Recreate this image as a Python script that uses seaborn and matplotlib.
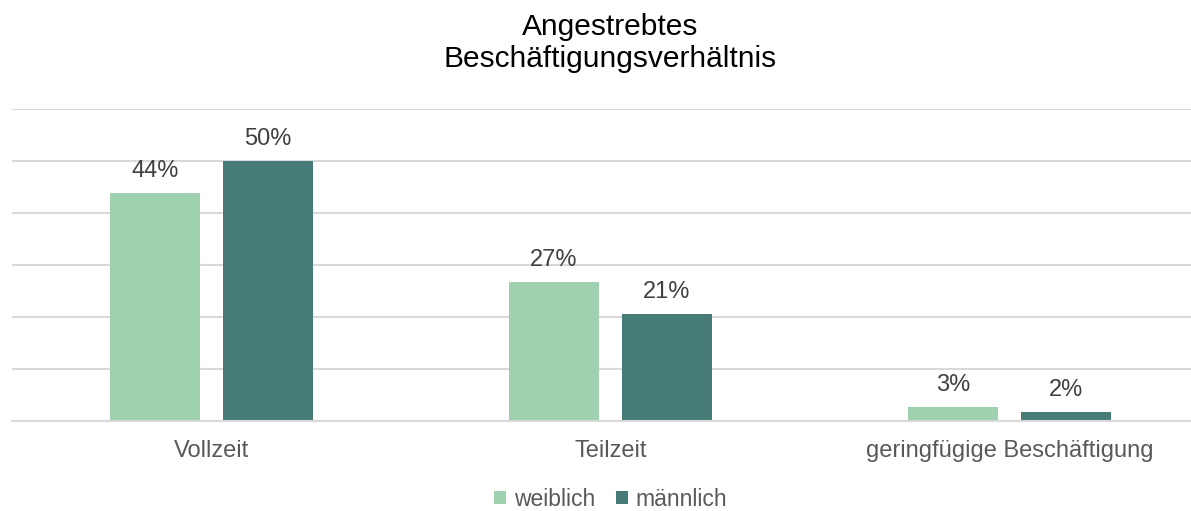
import matplotlib
matplotlib.use("Agg")
import matplotlib.pyplot as plt
import seaborn as sns
import pandas as pd

# data
kategorien = ["Vollzeit", "Teilzeit", "geringfügige Beschäftigung"]
weiblich = [43.8, 26.7, 2.6]
maennlich = [50.0, 20.6, 1.7]
gruppen = ["weiblich", "männlich"]
farben = ["#9fd0af", "#467b77"]

df = pd.DataFrame({
    "kategorie": kategorien * 2,
    "anteil": weiblich + maennlich,
    "geschlecht": [gruppen[0]] * 3 + [gruppen[1]] * 3,
})

sns.set_style("white")
plt.rcParams["font.family"] = ["Liberation Sans", "DejaVu Sans"]

W, H = 1191, 511
fig = plt.figure(figsize=(W / 100, H / 100), dpi=100)
# axes runs off the right edge like the original
ax = fig.add_axes([12 / W, (H - 421) / H, 1197 / W, 312 / H])

sns.barplot(data=df, x="kategorie", y="anteil", hue="geschlecht",
            palette=farben, width=0.566, gap=0.205, ax=ax, saturation=1,
            linewidth=0)

ax.set_xlim(-0.5, 2.5)
ax.set_ylim(0, 60)
ax.set_yticks(range(0, 61, 10))
ax.yaxis.grid(True, color="#d9d9d9", linewidth=1.5)
ax.set_axisbelow(True)
ax.tick_params(axis="y", left=False, labelleft=False)
for s in ["top", "right", "left"]:
    ax.spines[s].set_visible(False)
ax.spines["bottom"].set_color("#d9d9d9")
ax.spines["bottom"].set_linewidth(1.5)

ax.set_xticks([0, 1, 2])
ax.set_xticklabels(kategorien, fontsize=17, color="#595959")
ax.set_xticks([-0.5, 0.5, 1.5, 2.5], minor=True)
ax.tick_params(axis="x", which="major", length=0, pad=14)
ax.tick_params(axis="x", which="minor", length=6, width=1.5, color="#d9d9d9")
ax.set_xlabel("")
ax.set_ylabel("")

for cont in ax.containers:
    labels = [f"{v:.0f}%" for v in cont.datavalues]
    ax.bar_label(cont, labels=labels, padding=8, fontsize=17, color="#404040")

ax.set_title("Angestrebtes\nBeschäftigungsverhältnis", fontsize=21.5,
             color="black", pad=30, linespacing=1.2)

ax.legend(loc="center", bbox_to_anchor=(0.5, -0.25), ncol=2, frameon=False,
          fontsize=16.5, labelcolor="#595959", handlelength=0.52,
          handleheight=0.52, handletextpad=0.35, columnspacing=0.9,
          borderpad=0.1)

fig.savefig("out.png", dpi=100)
